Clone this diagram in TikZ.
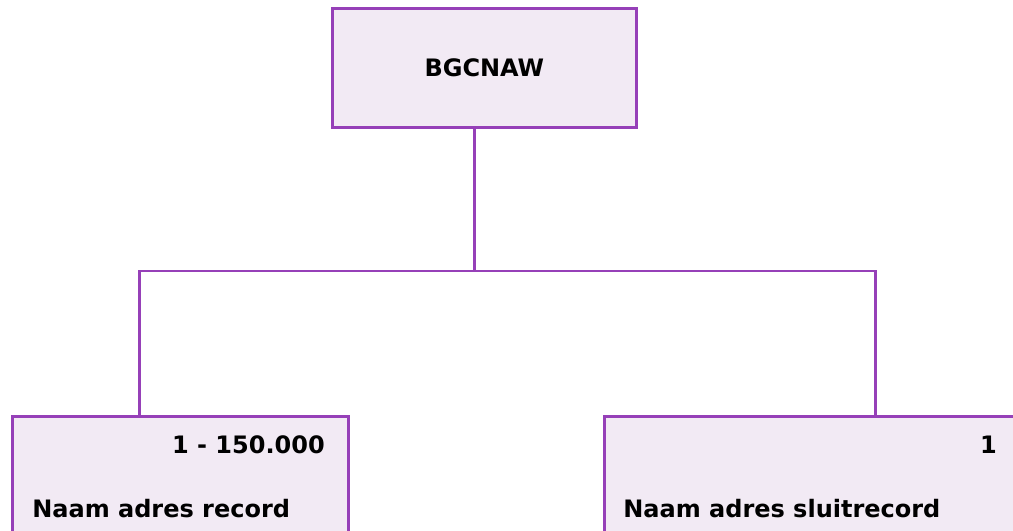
\documentclass[tikz,border=0pt]{standalone}
\usepackage{fontspec}
\setmainfont{DejaVu Sans}
\usetikzlibrary{positioning}
\definecolor{rimpurple}{RGB}{150,64,184}
\definecolor{boxfill}{RGB}{242,234,244}
\tikzset{
  recbox/.style={draw=rimpurple, fill=boxfill, line width=2pt, rectangle, inner sep=0pt},
  link/.style={draw=rimpurple, line width=2pt},
  lbl/.style={font=\fontsize{18}{21}\selectfont\bfseries, inner sep=0pt}
}
\begin{document}
\begin{tikzpicture}[x=0.75pt,y=-0.75pt]
    \useasboundingbox (0,0) rectangle (1013,531);
    \clip (0,0) rectangle (1013,531);
        \node[recbox, minimum width=228pt, minimum height=89.25pt, anchor=north west] (root) at (331,7) {};
        \node[lbl] (rootname) at (root.center) {BGCNAW};
        \node[recbox, minimum width=252pt, minimum height=105pt, anchor=north west] (naw) at (11,415) {};
        \node[recbox, minimum width=315pt, minimum height=105pt, anchor=north west] (sluit) at (603,415) {};
        \node[lbl, anchor=east] (nawcount) at (325,445) {1 - 150.000};
        \node[lbl, anchor=west] (nawname) at (32,509) {Naam adres record};
        \node[lbl, anchor=east] (sluitcount) at (997,445) {1};
        \node[lbl, anchor=west] (sluitname) at (623,509) {Naam adres sluitrecord};
        \coordinate (fork) at (474.5,271);
        \coordinate (nawleg) at (139.5,415);
        \coordinate (sluitleg) at (875.5,415);
        \draw[link] (root.south -| fork) -- (fork);
        \draw[link] (fork) -| (nawleg);
        \draw[link] (fork) -| (sluitleg);
    \end{tikzpicture}
\end{document}
